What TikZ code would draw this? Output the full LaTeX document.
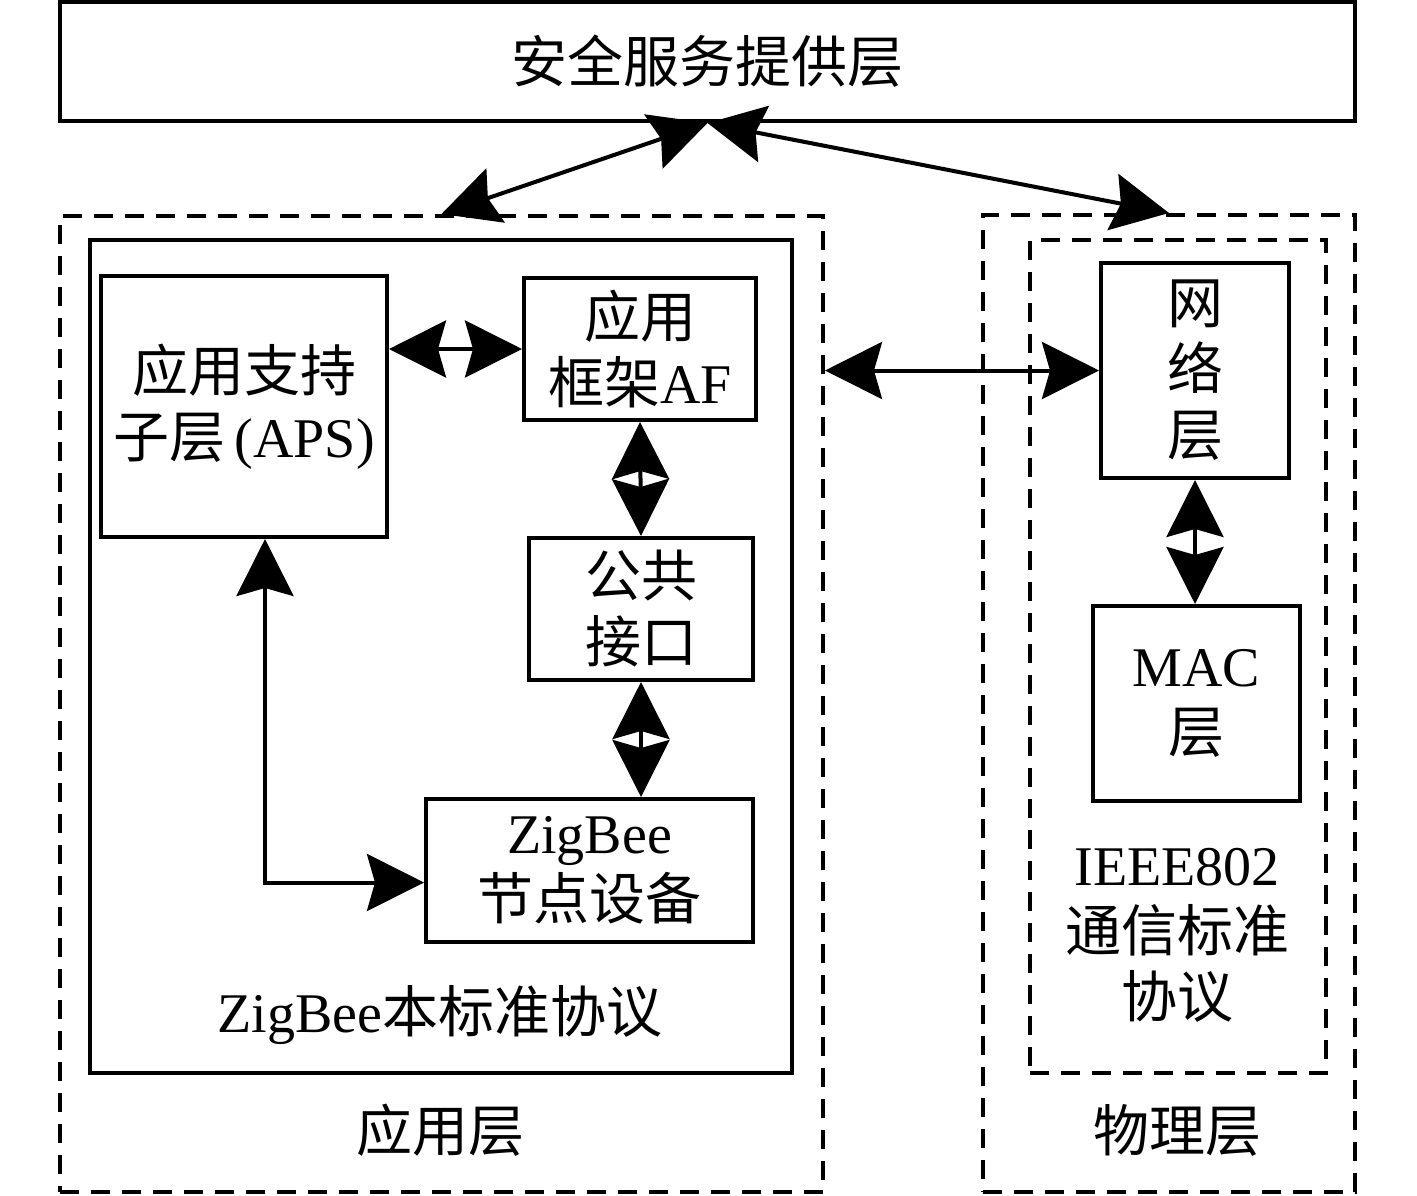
\documentclass[tikz,border=0pt]{standalone}
\usepackage{fontspec}
\setmainfont{Liberation Serif}
\newfontfamily\cjk{Noto Sans CJK SC}
\usetikzlibrary{arrows.meta}

\begin{document}
\begin{tikzpicture}[x=1pt,y=-1pt,
            box node/.style={draw,line width=4pt,inner sep=0pt,align=center},
            dash node/.style={box node,dash pattern=on 19pt off 12pt},
            link/.style={line width=4pt,{Stealth[length=57pt,width=57pt,inset=8pt]}-{Stealth[length=57pt,width=57pt,inset=8pt]}},
            font=\fontsize{56pt}{66pt}\selectfont,
            ]
            \useasboundingbox (0,0) rectangle (1417,1195);

            % top layer
            \node[box node, minimum width=1295pt, minimum height=119pt] (top) at (707.5,61.5) {\cjk 安全服务提供层};

            % application side
            \node[dash node, minimum width=763pt, minimum height=976pt] (app) at (441.5,704) {};
            \node[box node, minimum width=702pt, minimum height=833pt] (zstd) at (441,656.5) {};
            \node[box node, minimum width=286pt, minimum height=261pt] (aps) at (244,406.5) {{\cjk 应用支持}\\{\cjk 子层}\,(APS)};
            \node[box node, minimum width=232pt, minimum height=142pt] (af) at (640,349) {{\cjk 应用}\\{\cjk 框架}AF};
            \node[box node, minimum width=224pt, minimum height=142pt] (port) at (641,609) {{\cjk 公共}\\{\cjk 接口}};
            \node[box node, minimum width=327pt, minimum height=143pt] (zb) at (589.5,870.5) {ZigBee\\{\cjk 节点设备}};
            \node (zstdlabel) at (440,1015) {ZigBee{\cjk 本标准协议}};
            \node (applabel) at (440,1130) {\cjk 应用层};

            % physical side
            \node[dash node, minimum width=372pt, minimum height=977pt] (phy) at (1169,703.5) {};
            \node[dash node, minimum width=296pt, minimum height=833pt] (ieee) at (1178,656.5) {};
            \node[box node, minimum width=188pt, minimum height=215pt] (net) at (1195,370.5) {{\cjk 网}\\{\cjk 络}\\{\cjk 层}};
            \node[box node, minimum width=207pt, minimum height=195pt] (mac) at (1196.5,703.5) {MAC\\{\cjk 层}};
            \node[align=center] (ieeelabel) at (1177,935) {IEEE802\\{\cjk 通信标准}\\{\cjk 协议}};
            \node (phylabel) at (1177,1130) {\cjk 物理层};

            % connections
            \draw[link] (top.south) -- (app.north);
            \draw[link] (top.south) -- (phy.north);
            \draw[link] (af.west -| aps.east) -- (af.west);
            \draw[link] (af.south) -- (port.north);
            \draw[link] (port.south) -- (port.south |- zb.north);
            \draw[link] ([xshift=21pt]aps.south) |- ([yshift=-12pt]zb.west);
            \draw[link] (net.west -| app.east) -- (net.west);
            \draw[link] (net.south) -- (net.south |- mac.north);
        \end{tikzpicture}
\end{document}
